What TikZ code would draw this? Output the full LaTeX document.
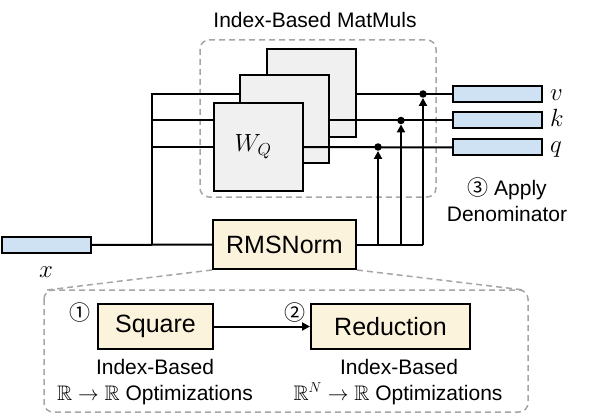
\documentclass[tikz,border=0pt]{standalone}
\usepackage{amssymb}
\usepackage{fontspec}
\setmainfont{Liberation Sans}
\newfontfamily\symfont{Noto Sans CJK SC}
\usetikzlibrary{arrows.meta}
\definecolor{vecblue}{HTML}{CFE2F3}
\definecolor{boxbeige}{HTML}{FCF3DC}
\definecolor{matgray}{HTML}{F0F0F0}
\definecolor{dashgray}{HTML}{A6A6A6}
\tikzset{
  vec/.style={draw, line width=2pt, fill=vecblue, minimum width=89pt, minimum height=16pt, inner sep=0pt},
  opbox/.style={draw, line width=2pt, fill=boxbeige, inner sep=0pt, font=\fontsize{25}{29}\selectfont},
  mat/.style={draw, line width=2pt, fill=matgray, minimum width=89pt, minimum height=88pt, inner sep=0pt},
  group/.style={draw=dashgray, dash pattern=on 6pt off 4pt, line width=1.5pt, rounded corners=9pt},
  wire/.style={line width=2pt},
  arr/.style={wire, -{Triangle[length=8pt,width=8pt]}},
  lbl/.style={font=\fontsize{21}{25}\selectfont, inner sep=0pt},
  mlbl/.style={font=\fontsize{27}{31}\selectfont, inner sep=0pt},
  dot/.style={circle, fill=black, inner sep=0pt, minimum size=7.5pt},
}
\begin{document}
\begin{tikzpicture}[x=1pt, y=-1pt]
\useasboundingbox (0,0) rectangle (598,420);
% dashed groups
\draw[group] (200,40) rectangle (436,197);
\node[lbl, anchor=base] (title) at (315,28) {Index-Based MatMuls};
% matrices
\node[mat] (m3) at (311.5,93.5) {};
\node[mat] (m2) at (284.5,119.5) {};
\node[mat] (m1) at (258,147) {};
\node[mlbl, anchor=base] (wq) at (253,152) {$W_Q$};
% vectors
\node[vec] (xv) at (46.5,245) {};
\node[mlbl, anchor=base] (xl) at (46,277) {$x$};
\node[vec] (v) at (497.5,94) {};
\node[vec] (k) at (497.5,120.5) {};
\node[vec] (q) at (497.5,147.5) {};
\node[mlbl, anchor=base west] (vl) at (550,101) {$v$};
\node[mlbl, anchor=base west] (kl) at (550,127) {$k$};
\node[mlbl, anchor=base west] (ql) at (550,153) {$q$};
% RMSNorm
\node[opbox, minimum width=143pt, minimum height=49pt] (rms) at (284.5,244.5) {RMSNorm};
% dots
\node[dot] (vd) at (423,94) {};
\node[dot] (kd) at (401,120.5) {};
\node[dot] (qd) at (378,147) {};
% wires in
\coordinate (split) at (152,245);
\coordinate (top) at (152,94);
\draw[wire] (xv.east) -- (rms.west);
\draw[wire] (split) -- (top) -- (m2.west |- top);
\draw[wire] (split |- kd) -- (m1.west |- kd);
\draw[wire] (split |- qd) -- (m1.west |- qd);
% wires out
\draw[wire] (m3.east |- vd) -- (v.west);
\draw[wire] (m2.east |- kd) -- (k.west);
\draw[wire] (m1.east |- qd) -- (q.west);
% rms to dots
\coordinate (rend) at (423,245);
\draw[wire] (rms.east |- rend) -- (rend);
\draw[arr] (rend) -- (vd.south);
\draw[arr] (kd |- rend) -- (kd.south);
\draw[arr] (qd |- rend) -- (qd.south);
\node[lbl, anchor=base] (apply) at (507,195) {{\symfont ③} Apply};
\node[lbl, anchor=base] (denom) at (507,221) {Denominator};
% lower group
\coordinate (gtl) at (47,290);
\coordinate (gtr) at (524,290);
\draw[group] (44,290) rectangle (528,412);
\draw[draw=dashgray, dash pattern=on 6pt off 4pt, line width=1.5pt] (rms.south west) -- (gtl);
\draw[draw=dashgray, dash pattern=on 6pt off 4pt, line width=1.5pt] (rms.south east) -- (gtr);
\node[opbox, minimum width=115pt, minimum height=45pt] (sq) at (155.5,326.5) {Square};
\node[opbox, minimum width=159pt, minimum height=45pt] (red) at (390.5,326.5) {Reduction};
\draw[arr] (sq) -- (red);
\node[lbl, anchor=center] (n1) at (80,313) {\symfont ①};
\node[lbl, anchor=center] (n2) at (295,313) {\symfont ②};
\node[lbl, anchor=base] (sqa) at (155,374) {Index-Based};
\node[lbl, anchor=base] (sqb) at (155,400) {$\mathbb{R}\rightarrow\mathbb{R}$ Optimizations};
\node[lbl, anchor=base] (rda) at (399,374) {Index-Based};
\node[lbl, anchor=base] (rdb) at (398,400) {$\mathbb{R}^N\rightarrow\mathbb{R}$ Optimizations};
\end{tikzpicture}
\end{document}
